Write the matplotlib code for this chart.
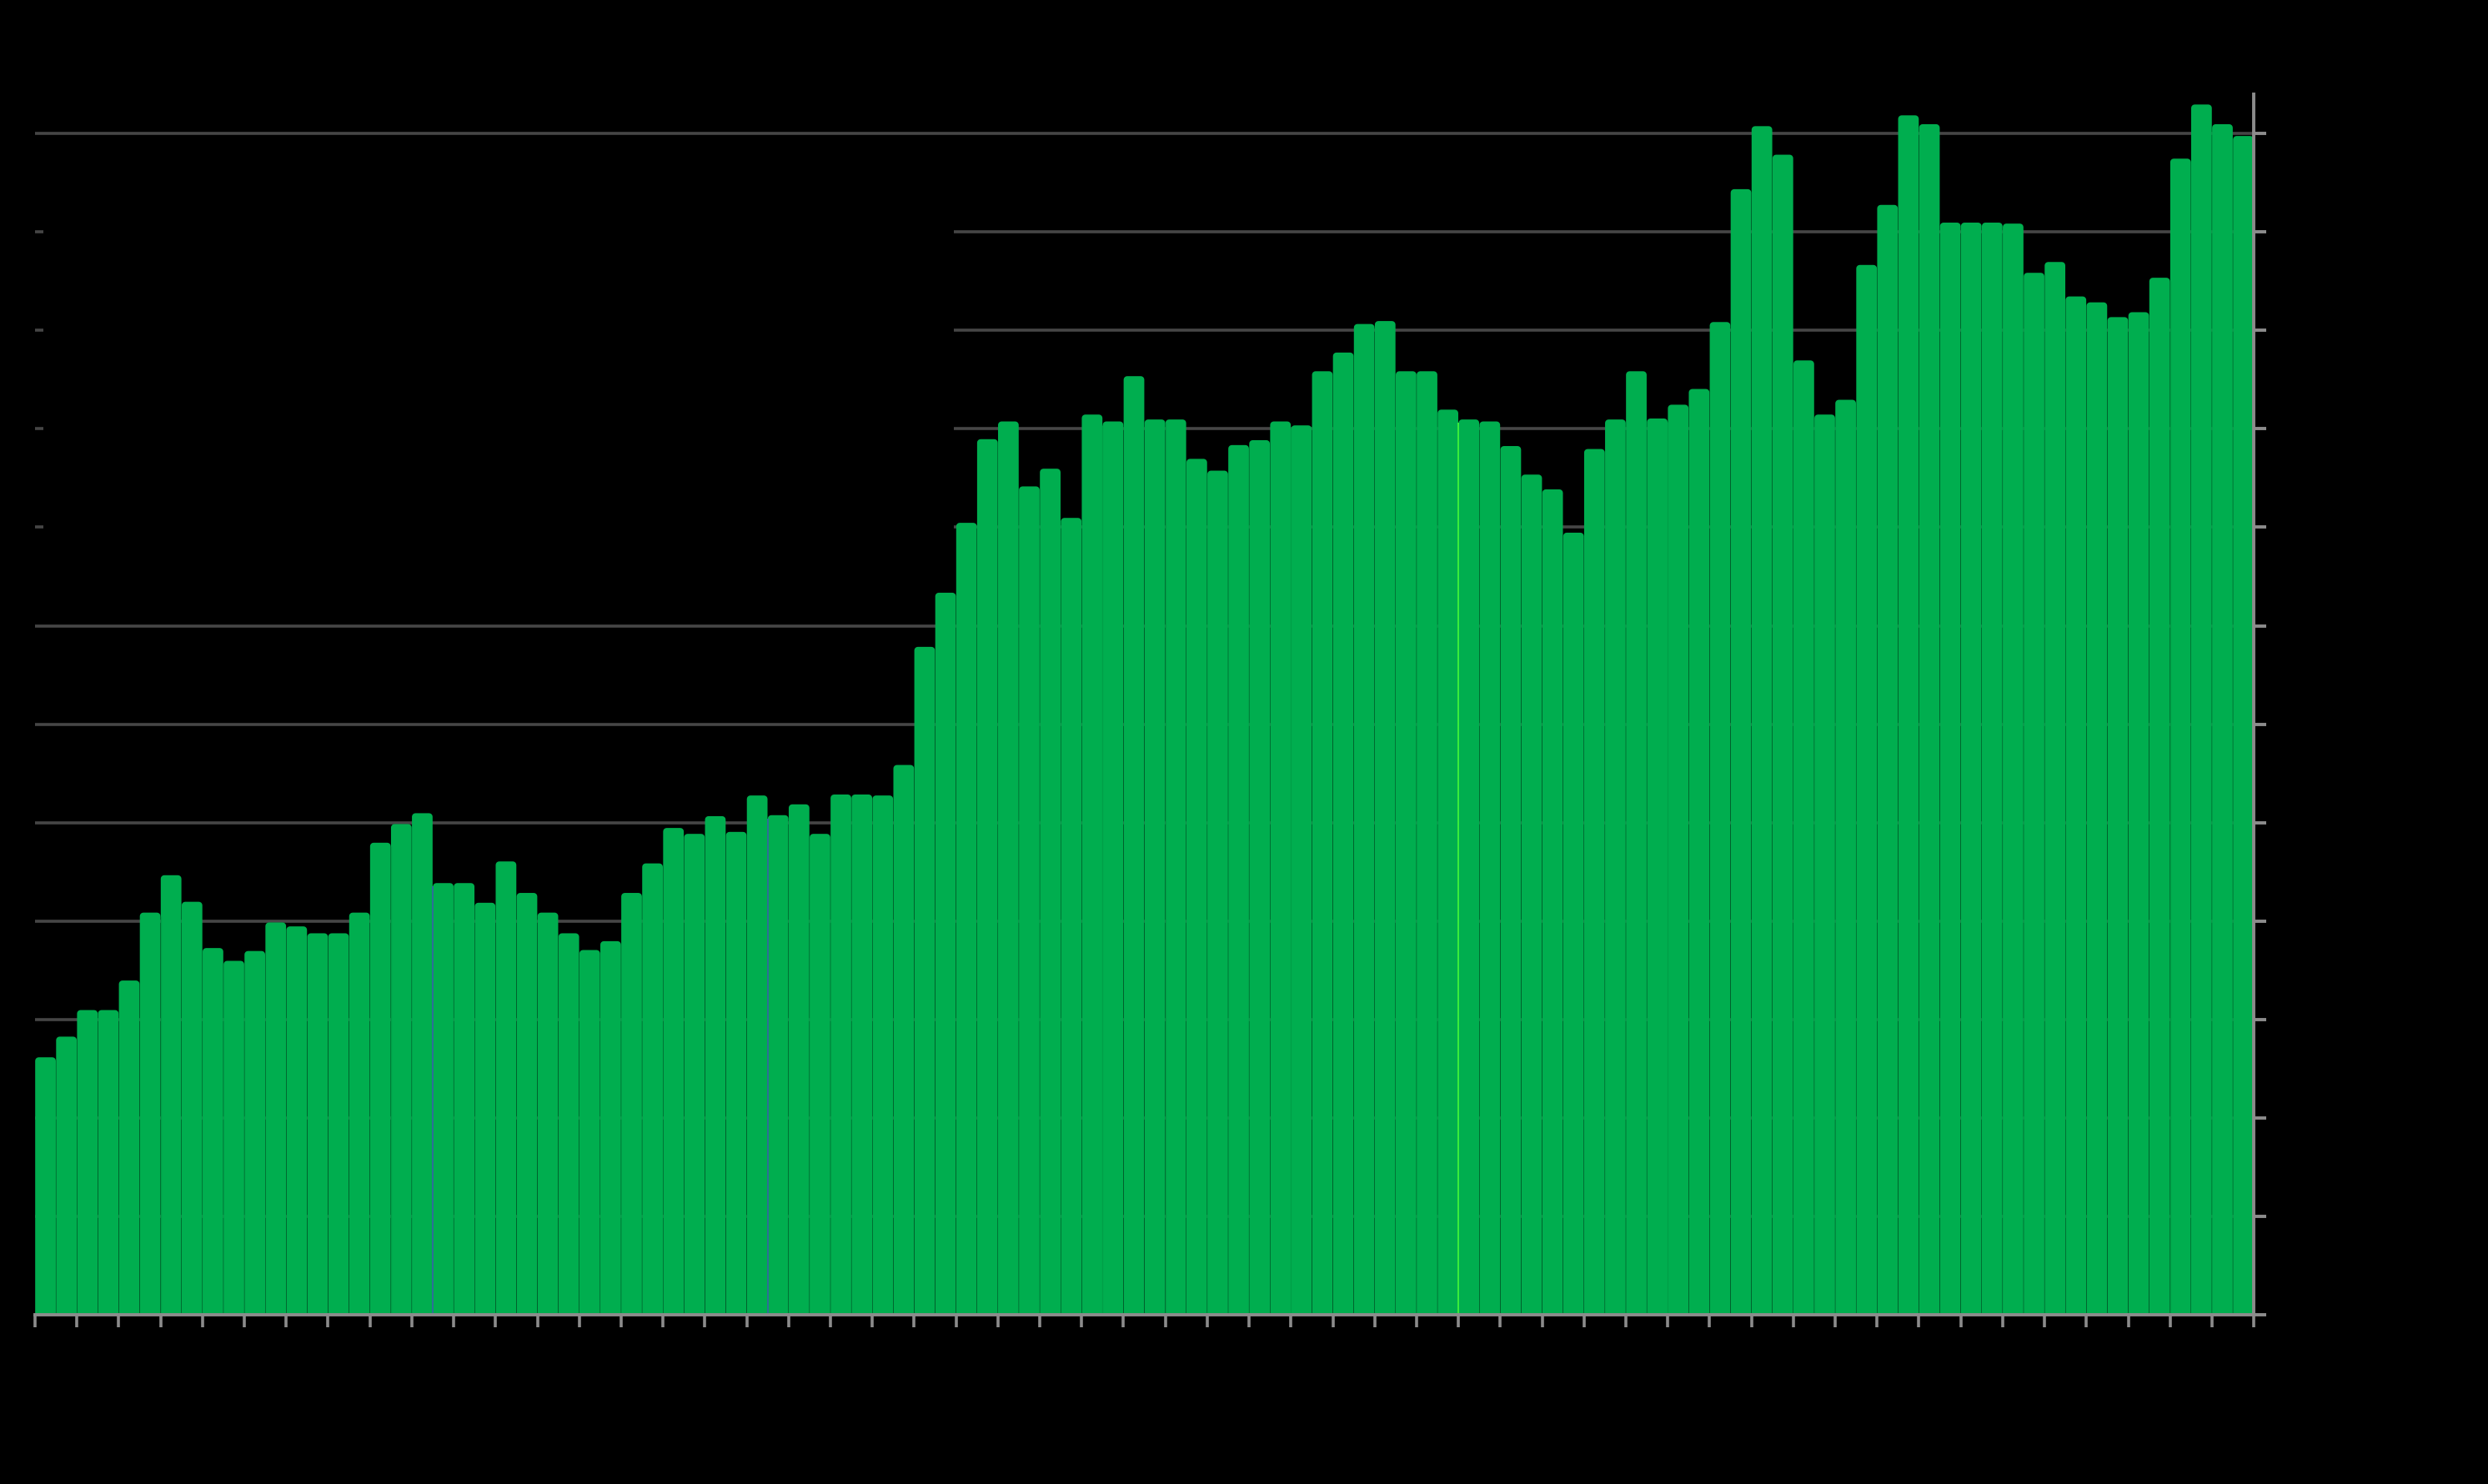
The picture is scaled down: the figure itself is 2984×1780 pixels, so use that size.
import matplotlib
matplotlib.use("Agg")
import matplotlib.pyplot as plt
import numpy as np
from matplotlib.patches import Rectangle

# bar heights, one per period (gridline = 1 unit)
values = [
    2.58, 2.79, 3.06, 3.06, 3.36, 4.05, 4.43, 4.16, 3.69, 3.56,
    3.66, 3.95, 3.91, 3.84, 3.84, 4.05, 4.76, 4.95, 5.06, 4.35,
    4.35, 4.15, 4.57, 4.25, 4.05, 3.84, 3.67, 3.76, 4.25, 4.55,
    4.91, 4.85, 5.03, 4.87, 5.24, 5.04, 5.15, 4.85, 5.25, 5.25,
    5.24, 5.55, 6.75, 7.30, 8.01, 8.86, 9.04, 8.38, 8.56, 8.06,
    9.11, 9.04, 9.50, 9.06, 9.06, 8.66, 8.54, 8.80, 8.85, 9.04,
    9.00, 9.55, 9.74, 10.03, 10.06, 9.55, 9.55, 9.16, 9.06, 9.04,
    8.79, 8.50, 8.35, 7.91, 8.76, 9.06, 9.55, 9.07, 9.21, 9.37,
    10.05, 11.40, 12.04, 11.75, 9.66, 9.11, 9.26, 10.63, 11.24, 12.15,
    12.06, 11.06, 11.06, 11.06, 11.05, 10.55, 10.66, 10.31, 10.25, 10.10,
    10.15, 10.50, 11.71, 12.26, 12.06, 11.94,
]
y_ticks = list(range(0, 13))

# boundaries between bars that carry a coloured marker line
marker_bounds = [18.5, 34.5, 67.5]
marker_colors = ["#2f6f9a", "#2f6f9a", "#3cf03c"]
faint_bounds = [5.5, 16.5, 50.5, 53.5, 59.5, 77.5, 101.5]

green = "#00ae4f"
grid_gray = "#464646"
axis_gray = "#8c8c8c"

x = np.arange(len(values))

fig = plt.figure(figsize=(14.92, 8.905), dpi=200, facecolor="black")
ax = fig.add_axes([0.01408, 0.114, 0.8918, 0.822])
ax.set_facecolor("black")

ax.bar(x, values, width=0.655, color=green, edgecolor=green, linewidth=3,
       joinstyle="round", snap=False, zorder=2)

# thin lines between some bars, only as high as the lower neighbour
for b, c in zip(marker_bounds, marker_colors):
    top = min(values[int(b - 0.5)], values[int(b + 0.5)])
    ax.vlines(b, 0, top, color=c, lw=0.7, zorder=3)
for b in faint_bounds:
    top = min(values[int(b - 0.5)], values[int(b + 0.5)])
    ax.vlines(b, 0, top, color="#00a048", lw=0.5, zorder=3)

# black panel hiding the upper left gridlines
ax.add_patch(Rectangle((-0.12, 7.6), 43.5, 4.15, facecolor="black",
                       edgecolor="none", zorder=1.5))

ax.set_xlim(-0.5, len(values) - 0.5)
ax.set_ylim(0, 12.4)

ax.set_axisbelow(True)
ax.set_yticks(y_ticks)
ax.set_yticklabels([])
ax.yaxis.grid(True, color=grid_gray, lw=1.3)
ax.yaxis.tick_right()
ax.tick_params(axis="y", direction="out", length=5.5, width=1.4,
               colors=axis_gray)

ax.set_xticks(np.arange(-0.5, len(values), 2))
ax.set_xticklabels([])
ax.tick_params(axis="x", direction="out", length=5.5, width=1.3,
               colors=axis_gray)

for side in ["left", "top"]:
    ax.spines[side].set_visible(False)
for side in ["bottom", "right"]:
    ax.spines[side].set_color(axis_gray)
    ax.spines[side].set_linewidth(1.4)
    ax.spines[side].set_zorder(4)

fig.savefig("out.png", dpi=200, facecolor="black")
